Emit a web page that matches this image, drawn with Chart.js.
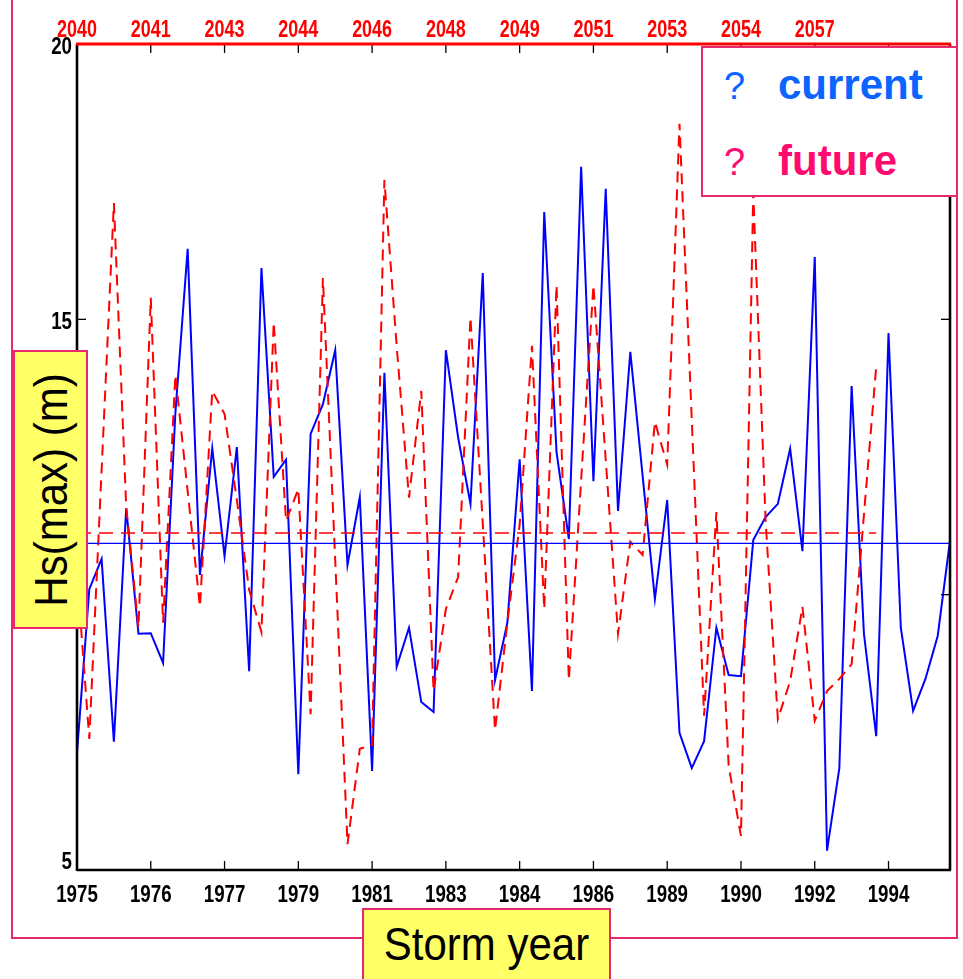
<!DOCTYPE html>
<html>
<head>
<meta charset="utf-8">
<script src="https://cdn.jsdelivr.net/npm/chart.js@4.4.0/dist/chart.umd.min.js"></script>
<style>
  html, body { margin: 0; padding: 0; background: #ffffff; width: 963px; height: 979px; overflow: hidden; }
  body { position: relative; font-family: 'Liberation Sans', Arial, sans-serif; }
  #chart { position: absolute; left: 0; top: 0; }
  .box { position: absolute; box-sizing: border-box; border: 2px solid #e8286e; }
  .ytitle { position: absolute; left: 52%; top: 50%; white-space: nowrap; font-size: 42px; line-height: 42px; color: #000;
            transform: translate(-50%, -50%) rotate(-90deg) scaleY(1.1); }
  .xtitle { position: absolute; left: 50%; top: 14px; white-space: nowrap; font-size: 42px; line-height: 42px; color: #000;
            transform: translateX(-50%) scaleY(1.1); }
  .leg { position: absolute; white-space: nowrap; line-height: 42px; }
  .q { font-size: 38px; font-weight: normal; }
  .lab { font-size: 42px; font-weight: bold; }
</style>
</head>
<body>
<canvas id="chart" width="963" height="979"></canvas>

<div class="box" style="left:11px; top:-10px; width:947px; height:949px;"></div>

<div class="box" style="left:13px; top:350px; width:75px; height:279px; background:#ffff66;">
  <span class="ytitle">Hs(max) (m)</span>
</div>

<div class="box" style="left:362px; top:908px; width:249px; height:90px; background:#ffff66;">
  <span class="xtitle">Storm year</span>
</div>

<div class="box" style="left:701px; top:46px; width:257px; height:151px; background:#ffffff;">
  <span class="leg q"   style="left:21px;  top:17px; color:#0a64ff;">?</span>
  <span class="leg lab" style="left:75px;  top:16px; color:#0a64ff;">current</span>
  <span class="leg q"   style="left:21px;  top:93px; color:#ff0a6e;">?</span>
  <span class="leg lab" style="left:75px;  top:92px; color:#ff0a6e;">future</span>
</div>

<script>
// ---- data ----
const bottomTickLabels = ['1975','1976','1977','1979','1981','1983','1984','1986','1989','1990','1992','1994'];
const topTickLabels    = ['2040','2041','2043','2044','2046','2048','2049','2051','2053','2054','2057',''];
const tickStorms       = [0, 6, 12, 18, 24, 30, 36, 42, 48, 54, 60, 66];
const yTickValues      = [5, 10, 15, 20];
const yTickLabels      = ['5', '10', '15', '20'];

const currentHs = [
  7.13, 10.10, 10.65, 7.33, 11.57, 9.29, 9.30, 8.76, 13.30, 16.28,
  10.36, 12.66, 10.70, 12.68, 8.61, 15.93, 12.14, 12.45, 6.74, 12.92,
  13.46, 14.44, 10.54, 11.77, 6.80, 14.03, 8.69, 9.40, 8.05, 7.87,
  14.44, 12.85, 11.65, 15.84, 8.45, 9.49, 12.46, 8.25, 16.95, 12.59,
  11.01, 17.77, 12.06, 17.37, 11.52, 14.41, 12.16, 9.92, 11.72, 7.49,
  6.85, 7.34, 9.40, 8.54, 8.52, 10.99, 11.41, 11.65, 12.65, 10.79,
  16.13, 5.35, 6.85, 13.79, 9.29, 7.43, 14.75, 9.40, 7.89, 8.47,
  9.25, 10.98
];

const futureHs = [
  10.39, 7.38, 12.26, 17.11, 11.60, 9.40, 15.39, 9.49, 13.99, 11.88,
  9.78, 13.70, 13.28, 11.72, 10.09, 9.32, 14.95, 11.34, 11.92, 7.83,
  15.75, 10.63, 5.47, 7.20, 7.27, 17.53, 14.51, 11.76, 13.70, 8.25,
  9.74, 10.32, 15.04, 11.30, 7.54, 9.49, 11.27, 14.52, 9.74, 15.62,
  8.45, 12.08, 15.62, 12.45, 9.29, 10.96, 10.72, 13.14, 12.36, 18.55,
  13.17, 7.80, 11.50, 6.89, 5.62, 17.30, 11.36, 7.74, 8.43, 9.78,
  7.71, 8.25, 8.47, 8.74, 11.45, 14.15
];

const currentMean = 10.93;
const futureMean  = 11.12;

// ---- chart ----
const toPoints = arr => arr.map((v, i) => ({ x: i, y: v }));

const axesPlugin = {
  id: 'axesPlugin',
  afterDraw(chart) {
    const { ctx, chartArea: a, scales } = chart;
    const line = (x1, y1, x2, y2) => { ctx.beginPath(); ctx.moveTo(x1, y1); ctx.lineTo(x2, y2); ctx.stroke(); };
    const label = (text, x, y, align, color, size) => {
      ctx.save();
      ctx.translate(x, y);
      ctx.scale(0.78, 1);
      ctx.font = 'bold ' + size + "px 'Liberation Sans', Arial, sans-serif";
      ctx.textAlign = align;
      ctx.textBaseline = 'alphabetic';
      ctx.fillStyle = color;
      ctx.fillText(text, 0, 0);
      ctx.restore();
    };
    ctx.save();
    ctx.strokeStyle = '#000';
    ctx.lineWidth = 1.3;
    tickStorms.forEach((v, i) => {
      const px = scales.x.getPixelForValue(v);
      line(px, a.bottom, px, a.bottom - 9);
      line(px, a.top, px, a.top + 9);
      label(bottomTickLabels[i], px, a.bottom + 32, 'center', '#000', 24);
      if (topTickLabels[i]) label(topTickLabels[i], px, a.top - 7, 'center', '#ff0000', 23);
    });
    yTickValues.forEach((v, i) => {
      const py = scales.y.getPixelForValue(v);
      line(a.left, py, a.left + 9, py);
      line(a.right, py, a.right - 9, py);
      const base = (v === yTickValues[0]) ? py - 1 : py + 10;
      label(yTickLabels[i], a.left - 5, base, 'right', '#000', 24);
    });
    ctx.lineWidth = 2.6;
    line(a.left, a.top, a.left, a.bottom + 1);
    line(a.left, a.bottom, a.right + 1, a.bottom);
    line(a.right, a.top, a.right, a.bottom);
    ctx.strokeStyle = '#ff0000';
    ctx.lineWidth = 3;
    line(a.left - 1, a.top, a.right + 1, a.top);
    ctx.restore();
  }
};

const xCommon = {
  type: 'linear', min: 0, max: currentHs.length - 1,
  afterBuildTicks: s => { s.ticks = tickStorms.map(v => ({ value: v })); },
  grid: { display: false, drawTicks: false },
  border: { display: false },
  ticks: { display: false }
};

new Chart(document.getElementById('chart'), {
  type: 'line',
  data: {
    datasets: [
      { label: 'future mean', data: [{ x: 0, y: futureMean }, { x: futureHs.length - 1, y: futureMean }],
        borderColor: '#ff0000', borderWidth: 1.6, borderDash: [14, 8], pointRadius: 0, xAxisID: 'x', yAxisID: 'y' },
      { label: 'current mean', data: [{ x: 0, y: currentMean }, { x: currentHs.length - 1, y: currentMean }],
        borderColor: '#0000ff', borderWidth: 1.3, pointRadius: 0, xAxisID: 'x', yAxisID: 'y' },
      { label: 'future', data: toPoints(futureHs),
        borderColor: '#ff0000', borderWidth: 2, borderDash: [11, 7], pointRadius: 0, tension: 0, xAxisID: 'x', yAxisID: 'y' },
      { label: 'current', data: toPoints(currentHs),
        borderColor: '#0000ff', borderWidth: 2, pointRadius: 0, tension: 0, xAxisID: 'x', yAxisID: 'y' }
    ]
  },
  options: {
    responsive: false,
    animation: false,
    events: [],
    layout: { padding: { left: 0, right: 13, top: 0, bottom: 0 } },
    plugins: { legend: { display: false }, tooltip: { enabled: false } },
    scales: {
      x: Object.assign({}, xCommon, { position: 'bottom', afterFit: s => { s.height = 109; } }),
      x2: Object.assign({}, xCommon, { position: 'top', afterFit: s => { s.height = 44; } }),
      y: {
        type: 'linear', position: 'left', min: 5, max: 20,
        afterBuildTicks: s => { s.ticks = yTickValues.map(v => ({ value: v })); },
        afterFit: s => { s.width = 77; },
        grid: { display: false, drawTicks: false },
        border: { display: false },
        ticks: { display: false }
      }
    }
  },
  plugins: [axesPlugin]
});
</script>
</body>
</html>
